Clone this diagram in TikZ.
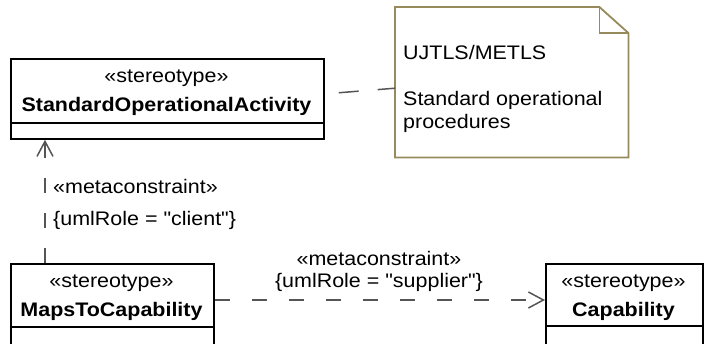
\documentclass[tikz,border=0pt]{standalone}
\usepackage{fontspec}
\newfontfamily\diafont{Liberation Sans}[FakeStretch=1.095]
\usetikzlibrary{arrows.meta}
\definecolor{notecol}{HTML}{978B5D}
\definecolor{depcol}{HTML}{555555}
\tikzset{
  every node/.style={font=\diafont\fontsize{19.6pt}{23pt}\selectfont, inner sep=0pt},
  classbox/.style={draw=black, line width=1.8pt, anchor=north west, inner sep=0pt},
  divider/.style={draw=black, line width=1.8pt},
  txt/.style={anchor=base, inner sep=0pt},
  ltxt/.style={anchor=base west, inner sep=0pt},
  dep/.style={draw=depcol, line width=1.5pt, dash pattern=on 15pt off 20pt,
    -{Straight Barb[length=15pt,width=16pt,line width=1.5pt]}},
  hdep/.style={dep, dash pattern=on 15pt off 22pt},
  anchorline/.style={draw=depcol, line width=1.5pt, dash pattern=on 20pt off 19pt, dash phase=25pt},
  notebox/.style={draw=notecol, line width=1.8pt, line join=miter}
}
\begin{document}
\begin{tikzpicture}[x=1pt,y=1pt]
\clip (0,0) rectangle (704,-343);
\fill[white] (0,0) rectangle (704,-343);

% StandardOperationalActivity
\node[classbox, minimum width=313pt, minimum height=80pt] (soa) at (10,-58) {};
\draw[divider] ([yshift=17pt]soa.south west) -- ([yshift=17pt]soa.south east);
\node[txt] (soast) at (166.5,-82) {«stereotype»};
\node[txt] (soaname) at (166.5,-111) {\textbf{StandardOperationalActivity}};

% MapsToCapability
\node[classbox, minimum width=203pt, minimum height=110pt] (mtc) at (10,-263) {};
\draw[divider] ([yshift=-64pt]mtc.north west) -- ([yshift=-64pt]mtc.north east);
\node[txt] (mtcst) at (111.5,-287) {«stereotype»};
\node[txt] (mtcname) at (111.5,-316) {\textbf{MapsToCapability}};

% Capability
\node[classbox, minimum width=157pt, minimum height=110pt] (cap) at (545,-263) {};
\draw[divider] ([yshift=-63pt]cap.north west) -- ([yshift=-63pt]cap.north east);
\node[txt] (capst) at (623.5,-287) {«stereotype»};
\node[txt] (capname) at (623.5,-316) {\textbf{Capability}};

% Note
\node[minimum width=233pt, minimum height=150pt, anchor=north west, inner sep=0pt] (note) at (395,-7) {};
\draw[notebox] (note.south west) -- (note.north west) -- ([xshift=-29pt]note.north east)
  -- ([yshift=-26pt]note.north east) -- (note.south east) -- cycle;
\draw[notebox] ([xshift=-29pt]note.north east) |- ([yshift=-26pt]note.north east);
\node[ltxt] (n1) at (403,-59) {UJTLS/METLS};
\node[ltxt] (n2) at (403,-105) {Standard operational};
\node[ltxt] (n3) at (403,-128) {procedures};

% Connectors
\draw[anchorline] ([yshift=5pt]soa.east) -- ([yshift=-6pt]note.west);
\draw[dep] ([xshift=35pt]mtc.north west) -- ([xshift=35pt]soa.south west);
\draw[hdep] ([yshift=-37pt]mtc.north east) -- ([yshift=-37pt]cap.north west);

% Labels
\node[ltxt] (vl1) at (53,-193) {«metaconstraint»};
\node[ltxt] (vl2) at (53,-225) {\{umlRole = "client"\}};
\node[txt] (hl1) at (379,-265) {«metaconstraint»};
\node[txt] (hl2) at (379,-287) {\{umlRole = "supplier"\}};
\end{tikzpicture}
\end{document}
